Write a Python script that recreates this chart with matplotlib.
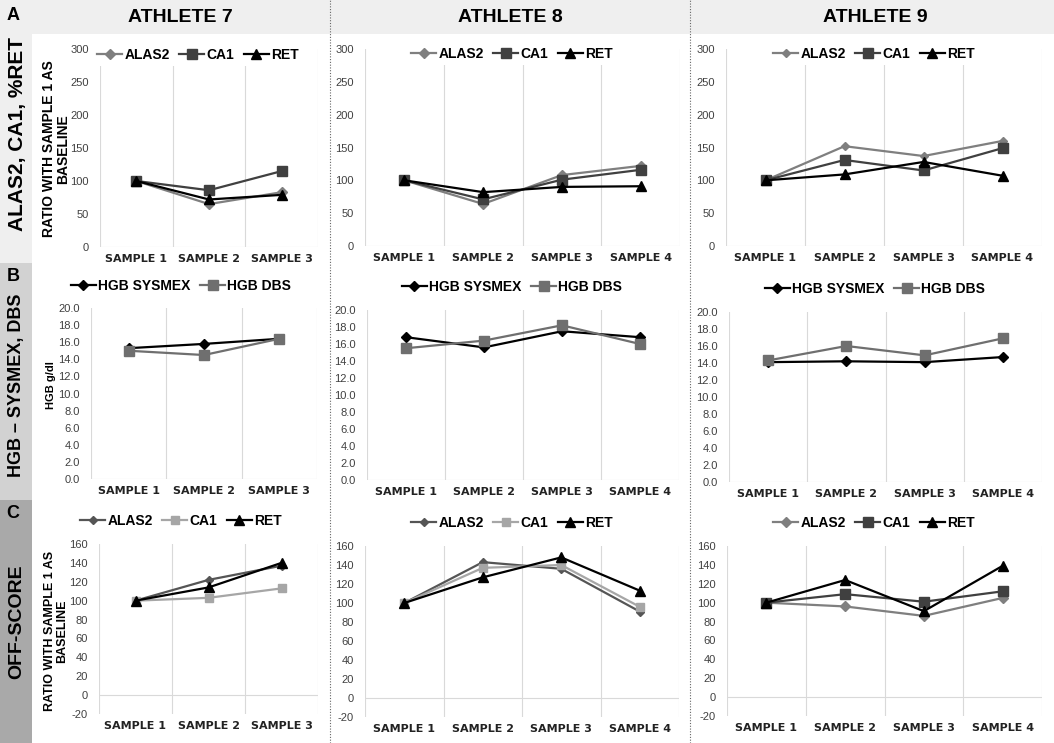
import matplotlib
matplotlib.use("Agg")
import matplotlib.pyplot as plt
from matplotlib.patches import Rectangle
from matplotlib.lines import Line2D

plt.rcParams["font.family"] = ["Liberation Sans", "DejaVu Sans"]

W, H = 1054, 743

samples3 = ["SAMPLE 1", "SAMPLE 2", "SAMPLE 3"]
samples4 = ["SAMPLE 1", "SAMPLE 2", "SAMPLE 3", "SAMPLE 4"]
athletes = ["ATHLETE 7", "ATHLETE 8", "ATHLETE 9"]

# A - ALAS2, CA1, %RET (ratio vs sample 1)
a7_alas2 = [100, 65, 83]
a7_ca1 = [100, 86, 115]
a7_ret = [100, 72, 79]
a8_alas2 = [100, 64, 108, 122]
a8_ca1 = [100, 71, 101, 116]
a8_ret = [100, 82, 90, 91]
a9_alas2 = [100, 152, 137, 160]
a9_ca1 = [100, 131, 115, 149]
a9_ret = [100, 109, 128, 107]

# B - HGB g/dl
b7_sysmex = [15.3, 15.8, 16.4]
b7_dbs = [15.0, 14.5, 16.4]
b8_sysmex = [16.8, 15.6, 17.5, 16.8]
b8_dbs = [15.5, 16.4, 18.2, 16.0]
b9_sysmex = [14.1, 14.2, 14.1, 14.7]
b9_dbs = [14.3, 16.0, 14.9, 16.9]

# C - OFF-score
c7_alas2 = [100, 122, 137]
c7_ca1 = [100, 103, 113]
c7_ret = [100, 114, 140]
c8_alas2 = [100, 143, 136, 91]
c8_ca1 = [100, 137, 140, 96]
c8_ret = [100, 127, 148, 113]
c9_alas2 = [100, 96, 86, 105]
c9_ca1 = [100, 109, 101, 112]
c9_ret = [100, 124, 91, 139]

fig = plt.figure(figsize=(W / 100, H / 100), dpi=100)
fig.patch.set_facecolor("white")


def fx(x):
    return x / W


def fy(y):
    return 1 - y / H


def rect(x0, y0, x1, y1, color):
    fig.add_artist(Rectangle((fx(x0), fy(y1)), (x1 - x0) / W, (y1 - y0) / H,
                             transform=fig.transFigure, color=color, zorder=0, lw=0))


# background bands
rect(0, 0, W, 34, "#efefef")
rect(0, 0, 32, 263, "#efefef")
rect(0, 263, 32, 500, "#d2d2d2")
rect(0, 500, 32, H, "#a9a9a9")

for xs in [330, 690]:
    fig.add_artist(Line2D([fx(xs), fx(xs)], [0, 1], transform=fig.transFigure,
                          color="#666666", lw=0.8, ls=(0, (1, 1.5))))

for t, cx in zip(athletes, [180, 510, 875]):
    fig.text(fx(cx), fy(17), t, ha="center", va="center", fontsize=14, fontweight="bold")

fig.text(fx(13), fy(15), "A", ha="center", va="center", fontsize=13, fontweight="bold")
fig.text(fx(13), fy(277), "B", ha="center", va="center", fontsize=13, fontweight="bold")
fig.text(fx(13), fy(514), "C", ha="center", va="center", fontsize=13, fontweight="bold")
fig.text(fx(18), fy(134), "ALAS2, CA1, %RET", rotation=90, ha="center", va="center",
         fontsize=15, fontweight="bold")
fig.text(fx(17), fy(385), "HGB – SYSMEX, DBS", rotation=90, ha="center", va="center",
         fontsize=13, fontweight="bold")
fig.text(fx(17), fy(622), "OFF-SCORE", rotation=90, ha="center", va="center",
         fontsize=14, fontweight="bold")

fig.text(fx(56), fy(149), "RATIO WITH SAMPLE 1 AS\nBASELINE", rotation=90, ha="center",
         va="center", fontsize=10, fontweight="bold", multialignment="center", linespacing=1.0)
fig.text(fx(51), fy(385), "HGB g/dl", rotation=90, ha="center", va="center",
         fontsize=8, fontweight="bold")
fig.text(fx(56), fy(631), "RATIO WITH SAMPLE 1 AS\nBASELINE", rotation=90, ha="center",
         va="center", fontsize=9, fontweight="bold", multialignment="center", linespacing=1.05)


def panel(box, labels, ylim, yticks, fmt, series, leg_xy, leg_bg):
    x0, x1, yt, yb = box
    ax = fig.add_axes([fx(x0), fy(yb), (x1 - x0) / W, (yb - yt) / H])
    ax.set_facecolor("none")
    n = len(labels)
    ax.set_xlim(-0.5, n - 0.5)
    ax.set_ylim(*ylim)
    for s in ax.spines.values():
        s.set_visible(False)
    for g in range(n + 1):
        ax.axvline(g - 0.5, color="#d9d9d9", lw=0.8, zorder=0)
    ax.axhline(0, color="#d9d9d9", lw=0.8, zorder=0)
    ax.set_xticks(range(n))
    ax.set_xticklabels(labels, fontweight="bold", fontsize=8, color="#222222",
                       family="DejaVu Sans")
    ax.set_yticks(yticks)
    ax.set_yticklabels([fmt.format(v) for v in yticks], fontsize=8, color="#404040")
    ax.tick_params(axis="x", length=0, pad=5)
    ax.tick_params(axis="y", length=0, pad=8)
    for vals, lab, col, mk, ms in series:
        ax.plot(range(n), vals, color=col, lw=1.6, marker=mk, ms=ms, label=lab, zorder=3)
    leg = ax.legend(loc="center", bbox_to_anchor=(fx(leg_xy[0]), fy(leg_xy[1])),
                    bbox_transform=fig.transFigure, ncol=len(series), frameon=leg_bg,
                    prop={"weight": "bold", "size": 10}, handlelength=1.8,
                    handletextpad=0.15, columnspacing=0.7, borderpad=0.3)
    if leg_bg:
        leg.get_frame().set_facecolor("white")
        leg.get_frame().set_edgecolor("none")
        leg.get_frame().set_alpha(1)
    return ax


ya = (0, 300)
ta = list(range(0, 301, 50))
yb_ = (0, 20)
tb = [0, 2, 4, 6, 8, 10, 12, 14, 16, 18, 20]
yc = (-20, 160)
tc = list(range(-20, 161, 20))

GREY = "#7f7f7f"
DARK = "#404040"

# row A
panel((100, 318, 49, 247), samples3, ya, ta, "{:d}",
      [(a7_alas2, "ALAS2", GREY, "D", 5), (a7_ca1, "CA1", DARK, "s", 7),
       (a7_ret, "RET", "black", "^", 7.5)], (198, 55), True)
panel((365, 680, 49, 246), samples4, ya, ta, "{:d}",
      [(a8_alas2, "ALAS2", GREY, "D", 5), (a8_ca1, "CA1", DARK, "s", 7),
       (a8_ret, "RET", "black", "^", 7.5)], (512, 54), True)
panel((726, 1042, 49, 246), samples4, ya, ta, "{:d}",
      [(a9_alas2, "ALAS2", GREY, "D", 4), (a9_ca1, "CA1", DARK, "s", 7),
       (a9_ret, "RET", "black", "^", 7.5)], (874, 54), True)

# row B
panel((91, 317, 308, 479), samples3, yb_, tb, "{:.1f}",
      [(b7_sysmex, "HGB SYSMEX", "black", "D", 5), (b7_dbs, "HGB DBS", "#6f6f6f", "s", 7)],
      (181, 286), False)
panel((367, 679, 310, 480), samples4, yb_, tb, "{:.1f}",
      [(b8_sysmex, "HGB SYSMEX", "black", "D", 5), (b8_dbs, "HGB DBS", "#6f6f6f", "s", 7)],
      (512, 287), False)
panel((729, 1042, 312, 482), samples4, yb_, tb, "{:.1f}",
      [(b9_sysmex, "HGB SYSMEX", "black", "D", 5), (b9_dbs, "HGB DBS", "#6f6f6f", "s", 7)],
      (875, 289), False)

# row C
LIGHT = "#a6a6a6"
panel((99, 318, 544, 714), samples3, yc, tc, "{:d}",
      [(c7_alas2, "ALAS2", "#555555", "D", 4), (c7_ca1, "CA1", LIGHT, "s", 6),
       (c7_ret, "RET", "black", "^", 7.5)], (181, 521), False)
panel((365, 679, 546, 717), samples4, yc, tc, "{:d}",
      [(c8_alas2, "ALAS2", "#555555", "D", 4), (c8_ca1, "CA1", LIGHT, "s", 6),
       (c8_ret, "RET", "black", "^", 7.5)], (512, 523), False)
panel((727, 1042, 546, 716), samples4, yc, tc, "{:d}",
      [(c9_alas2, "ALAS2", GREY, "D", 5), (c9_ca1, "CA1", DARK, "s", 7),
       (c9_ret, "RET", "black", "^", 7.5)], (874, 523), False)

fig.savefig("out.png", dpi=100)
